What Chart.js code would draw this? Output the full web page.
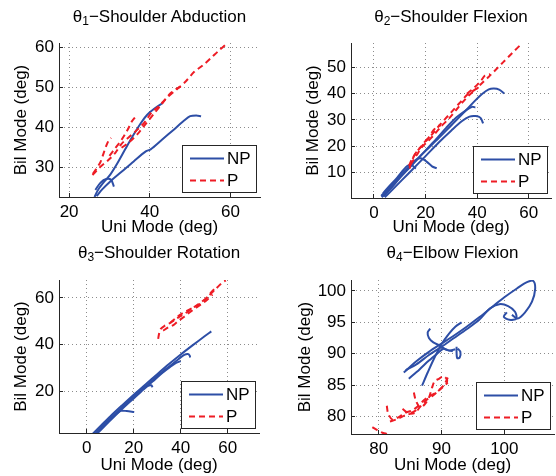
<!DOCTYPE html>
<html>
<head>
<meta charset="utf-8">
<script src="https://cdn.jsdelivr.net/npm/chart.js@4.4.0/dist/chart.umd.min.js"></script>
<style>
body { margin: 0; background: #fff; }
#fig { position: relative; width: 556px; height: 476px; overflow: hidden; font-family: 'Liberation Sans', Arial, sans-serif; }
.panel { position: absolute; width: 278px; height: 238px; }
.panel canvas { position: absolute; left: 0; top: 0; }
.ttl { position: absolute; text-align: center; font-size: 17px; line-height: 17px; color: #000; white-space: nowrap; }
.ttl sub { font-size: 12px; line-height: 0; position: relative; top: 3px; vertical-align: baseline; }
</style>
</head>
<body>
<div id="fig">
  <div class="panel" style="left:0;top:0"><canvas id="c0" width="278" height="238"></canvas></div>
  <div class="panel" style="left:278px;top:0"><canvas id="c1" width="278" height="238"></canvas></div>
  <div class="panel" style="left:0;top:238px"><canvas id="c2" width="278" height="238"></canvas></div>
  <div class="panel" style="left:278px;top:238px"><canvas id="c3" width="278" height="238"></canvas></div>
</div>
<script>
// Titulos e rotulos
const panelTitles = ['Shoulder Abduction', 'Shoulder Flexion', 'Shoulder Rotation', 'Elbow Flexion'];
const xLabel = 'Uni Mode (deg)';
const yLabel = 'Bil Mode (deg)';
const legendLabels = ['NP', 'P'];

// θ1 - Shoulder Abduction
const abdXRange = [17.5, 67.3];
const abdYRange = [22.7, 61.2];
const abdXTicks = [20, 40, 60];
const abdYTicks = [30, 40, 50, 60];
const abdNP1 = [[26.3,22.7],[27.2,24.5],[28.6,26.4],[30.2,28.3],[32,31.2],[34,34.8],[36,38.3],[37.8,41.2],[39.3,43.2],[41,44.7],[43.2,46.2]];
const abdNP2 = [[26.8,22.9],[28.2,24.6],[30.2,26.6],[33,29],[36,31.6],[39,34.1],[40.2,34.6],[43,37],[46,39.6],[48.5,41.8],[50,42.9],[51.5,43.1],[52.7,42.9]];
const abdNP3 = [[26.5,24.5],[27.8,26.3],[29.2,27.2],[30.4,27],[31.1,25.3]];
const abdP1 = [[25.8,28.2],[27.5,30],[29.8,32],[31.5,33.8],[33,36],[35,37.8],[37,39.6],[38.8,41.5],[40.4,43.8],[42,45.2],[44,47.3],[47,49.9],[49,51.7],[51,54],[53,55.5],[55,57.3],[57,59.2],[59,61]];
const abdP2 = [[25.9,28.5],[26.8,29.8],[27.8,31.5],[28.5,33.5],[29.2,35.5],[29.8,36.8],[30.4,37.5]];
const abdP3 = [[30,33],[31.5,35],[33,37],[34.5,39.5],[35.5,41.5],[36.5,42.8]];
const abdP4 = [[33,35],[35,36.5],[37,38.5],[39,41],[41,43.5],[43,46],[45,48.5],[47,50],[48.5,50.5]];

// θ2 - Shoulder Flexion
const flxXRange = [-8.9, 68.6];
const flxYRange = [0.2, 59.4];
const flxXTicks = [0, 20, 40, 60];
const flxYTicks = [10, 20, 30, 40, 50];
const flxNP1 = [[3,0.5],[5,2.5],[8,6],[12,10.2],[16,14.2],[20,18.2],[25,23],[30,28],[35,33],[39,37.2],[42,40],[44.5,41.7],[46.5,42],[48.5,41.6],[50.5,40.1]];
const flxNP2 = [[3.6,0.8],[6,3.2],[10,7.8],[14,12],[18,16.3],[23,21.5],[28,27],[32,31],[35.5,33.6],[38,35],[39.3,34.8]];
const flxNP3 = [[4.2,0.5],[7,3.2],[11,7.2],[15,11.2],[20,16.2],[25,21.3],[30,26],[34,29.5],[37,31.3],[39.5,31.5],[41.3,30.8],[42.3,28.7]];
const flxNP4 = [[2.8,1],[6,4.2],[9,7.5],[12,10.5],[14.5,13],[16.5,15],[18.5,15.3],[20.5,14],[22.5,12.3],[24.3,11.5]];
const flxNP5 = [[3.5,2],[6,4.8],[9,8],[11.5,11],[13,12.5],[14.5,13],[15.5,12],[16.3,11.5]];
const flxP1 = [[13.8,11.5],[14.5,14],[16,17],[18,19.5],[20,22],[22.5,24.5],[25,27.5],[27.6,30.4],[30,33],[33,36.3],[36,39.5],[39,41.5],[41.8,44],[44.5,46.5],[47,49],[50,52],[53.5,55.5],[57.3,59.2]];
const flxP2 = [[13.5,12.5],[15,15.5],[17,18.5],[19,20.5],[21,23],[23,26],[24.5,27.5],[26,28]];
const flxP3 = [[14.2,13],[16.5,16.5],[18.5,19.5],[20.5,21.5],[23,24],[26,27.5],[29,30.5],[32,34],[35,37.5],[38,40.5],[40.5,42.5]];
const flxP4 = [[36,40],[39,42.5],[41.5,45],[43,47],[45,47.5]];

// θ3 - Shoulder Rotation
const rotXRange = [-11.8, 73.3];
const rotYRange = [2.2, 67.7];
const rotXTicks = [0, 20, 40, 60];
const rotYTicks = [20, 40, 60];
const rotNP1 = [[2.6,1.9],[6,5.3],[10,9.3],[15,14],[20,18.6],[25,23],[30,27.4],[35,31.7],[40,35.8],[45,39.7],[50,43.5],[53,45.7]];
const rotNP2 = [[3.2,1.5],[7,5.3],[11,9.3],[16,14],[21,18.6],[26,23],[31,27.4],[35.5,31],[39,33.8],[41.5,35.6],[43,36],[43.8,35.4],[44,34.5]];
const rotNP3 = [[3.8,1.4],[8,5.6],[13,10.5],[18,15.2],[23,19.8],[28,24.2],[32,27.8],[35.5,30.5],[38,32.2],[40,33]];
const rotNP4 = [[4.2,1.8],[8,5.7],[12,9.8],[16,14],[20,18],[23,20.8],[25.5,22.2],[27.5,22.6],[28,21.8]];
const rotNP5 = [[3,1],[6,4.3],[9,7.4],[12,10],[14.5,11.7],[17,11.6],[20.2,11.2]];
const rotP1 = [[30.4,42.5],[30.8,44.8],[31.5,46.8],[33,48],[35,49],[37,50.3],[39.5,52],[42,53.5],[44.5,55.3],[47,57],[49.5,58.8],[52,61],[54.5,63.5],[56.5,65.5],[58,66.8],[59.2,67.5]];
const rotP2 = [[32.5,46],[34.5,47.3],[37,48.5],[39,50.2],[41.5,52],[44,54],[46.5,55.8],[49,57.5],[51.5,59.5],[53.5,61.5]];
const rotP3 = [[35.5,49.3],[38,51.5],[40.5,53.3],[43,54.7],[45.5,56],[48,57.3],[50.5,59.5],[53,62.5],[55,64.5]];

// θ4 - Elbow Flexion
const elbXRange = [75.6, 107.9];
const elbYRange = [77.2, 101.75];
const elbXTicks = [80, 90, 100];
const elbYTicks = [80, 85, 90, 95, 100];
const elbNP1 = [[84,87],[86,88.8],[88,90.3],[90,91.6],[92,92.9],[94,94.3],[96,95.8],[98,97.4],[100,99],[102,100.4],[103.6,101.4],[104.6,101.6],[104.9,100.3],[104.4,98.3],[103.3,96.6],[102.1,95.6],[101.2,96.2]];
const elbNP2 = [[84.3,87.4],[86,88.3],[88,89.8],[90,91.1],[92,92.5],[94,93.9],[96,95.4],[97.7,97.2],[99.2,97.9],[100.6,97.6],[101.7,96.7],[101.9,95.6],[100.8,95.4],[99.9,95.9],[100.4,96.6]];
const elbNP3 = [[86.9,84.9],[87.8,87],[88.8,89.2],[90,91.5],[91.2,93.2],[92.2,94.3],[93.2,95]];
const elbNP4 = [[84.8,86],[86.5,87.5],[88,88.9],[89.3,90],[90.3,90.8],[91.3,90.5],[92.2,90.7]];
const elbNP5 = [[88.2,94],[87.8,93.4],[88,92.5],[88.7,91.8],[89.7,91.3],[90.8,90.6],[91.8,90.4]];
const elbNP6 = [[92.4,91.1],[92.4,90.1],[92.5,89.3],[92.9,89.4],[93,90.3],[92.6,90.8]];
const elbP1 = [[79,78.3],[79.8,77.8],[80.6,77.4],[81.2,77.3],[81.6,77.8]];
const elbP2 = [[81.3,81.7],[81.5,80.5],[82.2,79.5],[83.2,79.9],[84.2,80.6],[85.2,80.9],[86.2,81.6],[87.1,82.5],[88,83.2],[89,83.7],[90,84.5],[91,85.4]];
const elbP3 = [[81.8,79.2],[83,79.6],[84.5,80.3],[85.8,80.6],[86.8,81.8],[87.7,82.7],[88.6,83.3],[89.6,84.2],[90.4,85],[91,86.2]];
const elbP4 = [[85.6,83.8],[85.9,82.6],[86.6,81.4],[87.3,81.9],[88,83],[88.5,84.6],[88.9,85.6],[89.6,86],[90.3,86.4],[90.9,85.8],[90.6,84.9]];
const elbP5 = [[83.8,81.2],[84.8,80.5],[85.8,80.9],[86.5,81.6]];

// Estilo
const BLUE = '#2d4ea6';
const RED = '#ee1c25';
const AXIS = '#262626';
const GRID = '#8c8c8c';
const FONT = "'Liberation Sans', Arial, sans-serif";
const PW = 278, PH = 238;

// chart area inside each panel: left, top, right, bottom; ylabel center x
const boxes = [
    { l: 59, t: 43, r: 260, b: 197, yl: 21, tt: 8 },
    { l: 73, t: 43, r: 273, b: 198, yl: 35.5, tt: 8 },
    { l: 59, t: 42, r: 259, b: 195, yl: 21, tt: 6 },
    { l: 73, t: 42, r: 276, b: 196, yl: 27.7, tt: 6 }
];

const toPts = arr => arr.map(p => ({ x: p[0], y: p[1] }));

const legendBox = {
    id: 'legendBox',
    afterDatasetsDraw(chart) {
        const a = chart.chartArea, ctx = chart.ctx;
        const w = 75, h = 48;
        const x = a.right - 3 - w, y = a.bottom - 4 - h;
        ctx.save();
        ctx.fillStyle = '#fff';
        ctx.fillRect(x, y, w, h);
        ctx.strokeStyle = AXIS;
        ctx.lineWidth = 1;
        ctx.strokeRect(x + 0.5, y + 0.5, w - 1, h - 1);
        const items = [
            { label: legendLabels[0], color: BLUE, dash: [] },
            { label: legendLabels[1], color: RED, dash: [6, 4] }
        ];
        items.forEach((it, k) => {
            const ly = y + 13.5 + k * 22;
            ctx.beginPath();
            ctx.setLineDash(it.dash);
            ctx.strokeStyle = it.color;
            ctx.lineWidth = 2;
            ctx.moveTo(x + 8, ly);
            ctx.lineTo(x + 42, ly);
            ctx.stroke();
            ctx.setLineDash([]);
            ctx.fillStyle = '#000';
            ctx.font = '17px ' + FONT;
            ctx.textBaseline = 'middle';
            ctx.fillText(it.label, x + 45, ly + 1);
        });
        ctx.restore();
    }
};

function buildPanel(i, npSets, pSets, xRange, yRange, xTicks, yTicks) {
    const L = boxes[i];
    const datasets = [];
    pSets.forEach(s => datasets.push({
        data: toPts(s), showLine: true, borderColor: RED, borderWidth: 2,
        borderDash: [6, 4], pointRadius: 0, tension: 0.3
    }));
    npSets.forEach(s => datasets.push({
        data: toPts(s), showLine: true, borderColor: BLUE, borderWidth: 2,
        pointRadius: 0, tension: 0.3
    }));

    const axisFont = { family: FONT, size: 17, lineHeight: 1 };
    const common = {
        type: 'linear',
        grid: { color: GRID, lineWidth: 1, drawTicks: true, tickLength: -4, tickColor: AXIS, tickWidth: 1 },
        border: { display: true, color: AXIS, width: 1, dash: [1, 3] },
    };

    new Chart(document.getElementById('c' + i), {
        type: 'scatter',
        data: { datasets },
        options: {
            responsive: false,
            animation: false,
            devicePixelRatio: 1,
            layout: { padding: { left: 0, top: L.t, right: PW - L.r, bottom: 0 } },
            plugins: { legend: { display: false }, tooltip: { enabled: false } },
            scales: {
                x: {
                    ...common,
                    min: xRange[0], max: xRange[1],
                    afterBuildTicks: s => { s.ticks = xTicks.map(v => ({ value: v })); },
                    afterFit: s => { s.height = PH - L.b; },
                    ticks: { padding: 10.5, color: '#000', font: axisFont, maxRotation: 0, autoSkip: false },
                    title: { display: true, text: xLabel, color: '#000', font: axisFont, padding: { top: 0, bottom: 2.5 } }
                },
                y: {
                    ...common,
                    min: yRange[0], max: yRange[1],
                    afterBuildTicks: s => { s.ticks = yTicks.map(v => ({ value: v })); },
                    afterFit: s => { s.width = L.l; },
                    ticks: { padding: 9, color: '#000', font: axisFont, autoSkip: false },
                    title: { display: true, text: yLabel, color: '#000', font: axisFont, padding: { top: L.yl - 8.5, bottom: 0 } }
                }
            }
        },
        plugins: [legendBox]
    });

    // titulo com subscrito
    const t = document.createElement('div');
    t.className = 'ttl';
    t.style.left = L.l + 'px';
    t.style.width = (L.r - L.l) + 'px';
    t.style.top = L.tt + 'px';
    t.innerHTML = '\u03b8<sub>' + (i + 1) + '</sub>\u2212' + panelTitles[i];
    document.getElementById('c' + i).parentNode.appendChild(t);
}

buildPanel(0, [abdNP1, abdNP2, abdNP3], [abdP1, abdP2, abdP3, abdP4], abdXRange, abdYRange, abdXTicks, abdYTicks);
buildPanel(1, [flxNP1, flxNP2, flxNP3, flxNP4, flxNP5], [flxP1, flxP2, flxP3, flxP4], flxXRange, flxYRange, flxXTicks, flxYTicks);
buildPanel(2, [rotNP1, rotNP2, rotNP3, rotNP4, rotNP5], [rotP1, rotP2, rotP3], rotXRange, rotYRange, rotXTicks, rotYTicks);
buildPanel(3, [elbNP1, elbNP2, elbNP3, elbNP4, elbNP5, elbNP6], [elbP1, elbP2, elbP3, elbP4, elbP5], elbXRange, elbYRange, elbXTicks, elbYTicks);
</script>
</body>
</html>
